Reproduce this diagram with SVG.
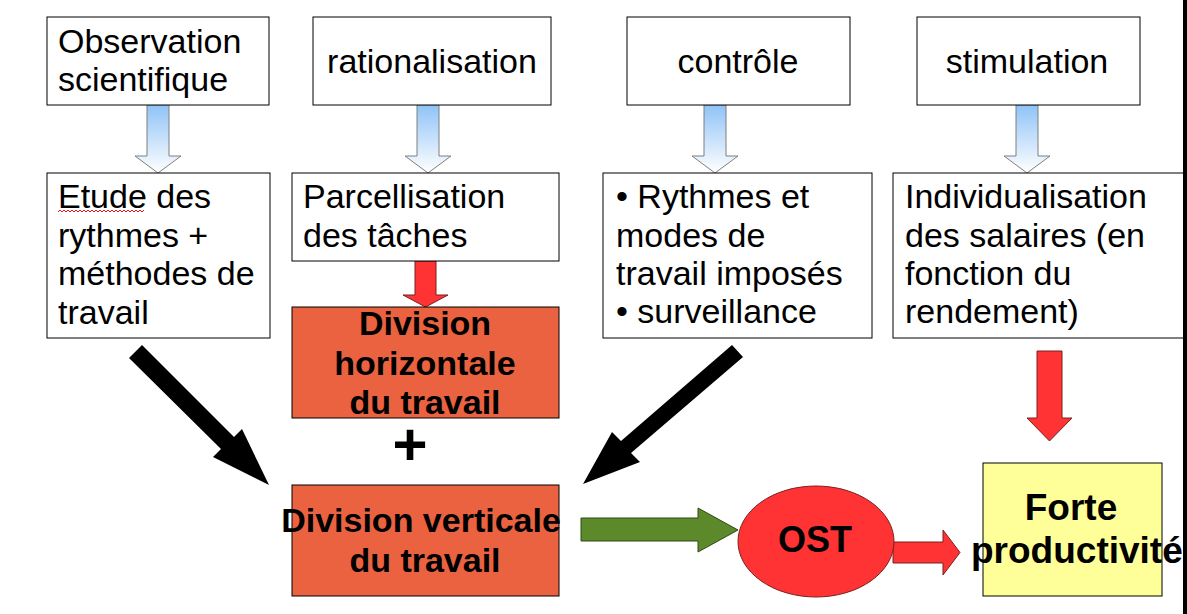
<svg xmlns="http://www.w3.org/2000/svg" width="1187" height="614" viewBox="0 0 1187 614">
  <defs>
    <linearGradient id="blueGrad" x1="0" y1="0" x2="0" y2="1">
      <stop offset="0" stop-color="#8fc3f7"/>
      <stop offset="1" stop-color="#ffffff"/>
    </linearGradient>
  </defs>
  <style>
    .box { fill: #ffffff; stroke: #000000; stroke-width: 1; }
    .orange { fill: #ea623f; stroke: #000000; stroke-width: 1; }
    .yellow { fill: #ffff99; stroke: #000000; stroke-width: 1; }
    .txt { font-family: "Liberation Sans", Arial, sans-serif; font-size: 34px; fill: #000000; }
    .bold { font-family: "Liberation Sans", Arial, sans-serif; font-size: 34px; font-weight: bold; fill: #000000; }
    .blue { fill: url(#blueGrad); stroke: #7f7f7f; stroke-width: 1; }
    .red { fill: #ff3333; stroke: #7a2020; stroke-width: 1; }
    .green { fill: #5c8a2a; stroke: #2f4a14; stroke-width: 1; }
    .black { fill: #000000; stroke: none; }
  </style>
  <rect x="0" y="0" width="1187" height="614" fill="#ffffff"/>

  <g id="connectors">
    <path class="blue" d="M147,105 H169 V156 H181 L158,173 L135,156 H147 Z"/>
    <path class="blue" d="M417,105 H439 V156 H451 L428,173 L405,156 H417 Z"/>
    <path class="blue" d="M704,105 H726 V156 H738 L715,173 L692,156 H704 Z"/>
    <path class="blue" d="M1016,105 H1038 V156 H1050 L1027,173 L1004,156 H1016 Z"/>
    <path class="red" d="M415,261 H436 V295 H448 L425.5,307 L403,295 H415 Z"/>
    <path class="red" d="M1037,351 H1062 V418 H1072 L1049.5,441 L1027,418 H1037 Z"/>
    <polygon class="black" points="129,358 142,345 234,437 242,429 269,485 213,457 221,449"/>
    <polygon class="black" points="732,345 743,357 631,453 640,462 583,484 612,432 621,441"/>
    <path class="green" d="M581,518 H698 V508 L738,530 L698,552 V541 H581 Z"/>
    <path class="red" d="M893,542 H943 V530 L960,552.5 L943,575 V563 H893 Z"/>
  </g>

  <g id="node-observation">
    <rect class="box" x="47" y="17" width="222" height="88"/>
    <text class="txt" x="58" y="53">Observation</text>
    <text class="txt" x="58" y="91">scientifique</text>
  </g>
  <g id="node-rationalisation">
    <rect class="box" x="313" y="17" width="238" height="88"/>
    <text class="txt" x="432" y="73" text-anchor="middle">rationalisation</text>
  </g>
  <g id="node-controle">
    <rect class="box" x="627" y="17" width="223" height="88"/>
    <text class="txt" x="738" y="73" text-anchor="middle">contrôle</text>
  </g>
  <g id="node-stimulation">
    <rect class="box" x="917" y="17" width="223" height="88"/>
    <text class="txt" x="1027" y="73" text-anchor="middle">stimulation</text>
  </g>

  <g id="node-etude">
    <rect class="box" x="47" y="173" width="223" height="165"/>
    <text class="txt" x="58" y="208">Etude des</text>
    <text class="txt" x="58" y="247">rythmes +</text>
    <text class="txt" x="58" y="285">méthodes de</text>
    <text class="txt" x="58" y="324">travail</text>
    <path d="M58,212 l2,-2 l2,2 l2,-2 l2,2 l2,-2 l2,2 l2,-2 l2,2 l2,-2 l2,2 l2,-2 l2,2 l2,-2 l2,2 l2,-2 l2,2 l2,-2 l2,2 l2,-2 l2,2 l2,-2 l2,2 l2,-2 l2,2 l2,-2 l2,2 l2,-2 l2,2 l2,-2 l2,2 l2,-2 l2,2 l2,-2 l2,2 l2,-2 l2,2 l2,-2 l2,2 l2,-2 l2,2 l2,-2 l2,2 l2,-2" fill="none" stroke="#e02020" stroke-width="1"/>
  </g>
  <g id="node-parcellisation">
    <rect class="box" x="292" y="173" width="267" height="88"/>
    <text class="txt" x="303" y="208">Parcellisation</text>
    <text class="txt" x="303" y="247">des tâches</text>
  </g>
  <g id="node-rythmes">
    <rect class="box" x="603" y="173" width="269" height="165"/>
    <text class="txt" x="616" y="208">• Rythmes et</text>
    <text class="txt" x="616" y="247">modes de</text>
    <text class="txt" x="616" y="285">travail imposés</text>
    <text class="txt" x="616" y="323">• surveillance</text>
  </g>
  <g id="node-individualisation">
    <rect class="box" x="893" y="173" width="300" height="165"/>
    <text class="txt" x="905" y="208">Individualisation</text>
    <text class="txt" x="905" y="247">des salaires (en</text>
    <text class="txt" x="905" y="285">fonction du</text>
    <text class="txt" x="905" y="323">rendement)</text>
  </g>

  <g id="node-division-horizontale">
    <rect class="orange" x="292" y="307" width="267" height="111"/>
    <text class="bold" x="425" y="335" text-anchor="middle">Division</text>
    <text class="bold" x="425" y="375" text-anchor="middle">horizontale</text>
    <text class="bold" x="425" y="414" text-anchor="middle">du travail</text>
  </g>
  <g id="plus">
    <text class="bold" x="410" y="465" text-anchor="middle" style="font-size:60px">+</text>
  </g>
  <g id="node-division-verticale">
    <rect class="orange" x="292" y="485" width="267" height="111"/>
    <text class="bold" x="421" y="532" text-anchor="middle">Division verticale</text>
    <text class="bold" x="425" y="572" text-anchor="middle">du travail</text>
  </g>
  <g id="node-ost">
    <ellipse class="red" cx="816" cy="541.5" rx="78" ry="55.5"/>
    <text class="bold" x="815" y="552" text-anchor="middle" style="font-size:36px">OST</text>
  </g>
  <g id="node-forte">
    <rect class="yellow" x="983" y="463" width="179" height="133"/>
    <text class="bold" x="1071" y="520" text-anchor="middle" style="font-size:37px">Forte</text>
    <text class="bold" x="971" y="563" style="font-size:37px">productivité</text>
  </g>

  <rect x="1183" y="0" width="4" height="614" fill="#000000"/>
</svg>
